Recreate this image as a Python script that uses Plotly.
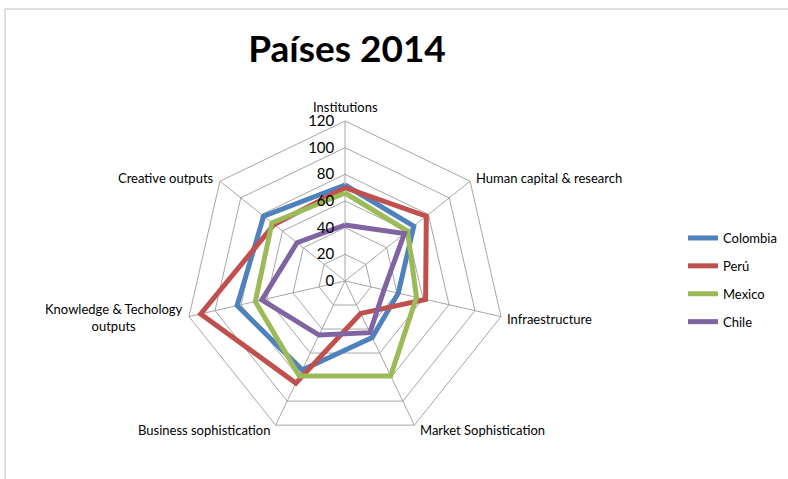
import math
import plotly.graph_objects as go

categories = ["Institutions", "Human capital & research", "Infraestructure",
              "Market Sophistication", "Business sophistication",
              "Knowledge & Techology<br>outputs", "Creative outputs"]
colombia = [72, 66, 41, 47, 74, 83, 78]
peru = [70, 78, 62, 27, 85, 111, 68]
mexico = [66, 60, 55, 79, 79, 69, 70]
chile = [42, 57, 30, 43, 45, 64, 46]
series_names = ["Colombia", "Perú", "Mexico", "Chile"]
series_values = [colombia, peru, mexico, chile]
colors = ["#4F81BD", "#C0504D", "#9BBB59", "#8064A2"]
radial_ticks = [0, 20, 40, 60, 80, 100, 120]

fig = go.Figure()
for name, vals, col in zip(series_names, series_values, colors):
    fig.add_trace(go.Scatterpolar(
        r=vals + vals[:1], theta=categories + categories[:1],
        mode="lines", name=name, legendgroup=name,
        line=dict(color=col, width=5, shape="linear"),
    ))

W, H = 788, 479
cx, cy, R = 345, 281, 160

# category labels placed just outside each vertex of the outer polygon
annotations = []
n = len(categories)
for k, lab in enumerate(categories):
    th = math.radians(90 - k * 360 / n)
    vx, vy = cx + R * math.cos(th), cy - R * math.sin(th)
    c, s = math.cos(th), math.sin(th)
    if abs(c) < 0.2:
        xa, px, py = "center", 0, -14
    elif c > 0:
        xa, px, py = "left", 4, -3 if s > 0 else (2 if s > -0.5 else 5)
    else:
        xa, px, py = "right", -4, -3 if s > 0 else (1 if s > -0.5 else 5)
    annotations.append(dict(
        text=lab, xref="paper", yref="paper",
        x=(vx + px) / W, y=1 - (vy + py) / H,
        xanchor=xa, yanchor="middle", align="center", showarrow=False,
        font=dict(size=13, color="#000000")))

fig.update_layout(
    width=W, height=H,
    margin=dict(l=0, r=0, t=0, b=0),
    paper_bgcolor="white", plot_bgcolor="white",
    font=dict(family="Lato, 'Open Sans', sans-serif", color="#000000", size=13),
    title=dict(text="<b>Países 2014</b>", x=347 / W, xanchor="center",
               y=1 - 49 / H, yanchor="middle",
               font=dict(family="Lato, sans-serif", size=37, color="#000000")),
    polar=dict(
        domain=dict(x=[(cx - R) / W, (cx + R) / W],
                    y=[1 - (cy + R) / H, 1 - (cy - R) / H]),
        gridshape="linear",
        bgcolor="white",
        angularaxis=dict(direction="clockwise", rotation=90,
                         showline=True, linecolor="#A6A6A6", linewidth=1,
                         gridcolor="#A6A6A6", gridwidth=1,
                         ticks="", showticklabels=False),
        radialaxis=dict(range=[0, 120], tickvals=radial_ticks,
                        ticktext=[str(v) for v in radial_ticks],
                        angle=90, tickangle=90, side="counterclockwise",
                        showline=False, ticks="outside", ticklen=5,
                        tickcolor="rgba(0,0,0,0)",
                        gridcolor="#A6A6A6", gridwidth=1,
                        tickfont=dict(size=15, color="#000000")),
    ),
    legend=dict(x=683 / W, y=1 - 223 / H, xanchor="left", yanchor="top",
                font=dict(size=13, color="#000000"),
                itemwidth=30, tracegroupgap=8, bgcolor="rgba(0,0,0,0)"),
    annotations=annotations,
    shapes=[
        dict(type="line", xref="paper", yref="paper",
             x0=5 / W, x1=1, y0=1 - 9 / H, y1=1 - 9 / H,
             line=dict(color="#BFBFBF", width=1)),
        dict(type="line", xref="paper", yref="paper",
             x0=5 / W, x1=5 / W, y0=0, y1=1 - 9 / H,
             line=dict(color="#BFBFBF", width=1)),
    ],
)
fig.write_html("out.html", config={"displayModeBar": False},
               post_script="document.body.style.margin='0px';")
